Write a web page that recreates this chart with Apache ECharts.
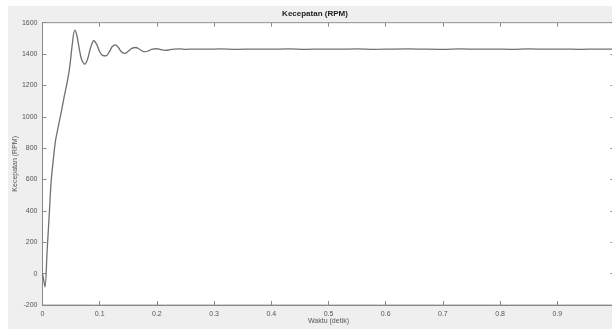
<!DOCTYPE html>
<html>
<head>
<meta charset="utf-8">
<script src="https://cdn.jsdelivr.net/npm/echarts@6/dist/echarts.min.js"></script>
<style>
  html, body { margin: 0; padding: 0; background: #fff; }
  #chart { width: 612px; height: 329px; }
</style>
</head>
<body>
<div id="chart"></div>
<script>
// Motor speed response: time in seconds, speed in RPM
const timeSec = [
  0, 0.002, 0.0044, 0.008, 0.012, 0.0152, 0.019, 0.0227, 0.028, 0.0332, 0.038, 0.0437,
  0.048, 0.052, 0.0565, 0.060, 0.064, 0.068, 0.074, 0.079, 0.084, 0.0897, 0.095,
  0.100, 0.105, 0.111, 0.117, 0.122, 0.1276, 0.133, 0.138, 0.144, 0.150, 0.156,
  0.163, 0.169, 0.175, 0.180, 0.186, 0.192, 0.199, 0.207, 0.215, 0.222, 0.23,
  0.24, 0.25, 0.27, 0.29, 0.31, 0.34, 0.37, 0.40, 0.43, 0.46, 0.49, 0.52, 0.55,
  0.58, 0.61, 0.64, 0.67, 0.70, 0.73, 0.76, 0.79, 0.82, 0.85, 0.88, 0.91, 0.94,
  0.97, 1.0
];
const speedRpm = [
  0, -40, -85, 140, 390, 592, 730, 847, 945, 1038, 1130, 1230,
  1330, 1460, 1553, 1520, 1440, 1370, 1336, 1370, 1440, 1485, 1460,
  1415, 1392, 1389, 1415, 1448, 1459, 1440, 1415, 1404, 1418, 1436,
  1442, 1432, 1418, 1415, 1422, 1431, 1434, 1428, 1424, 1427, 1432,
  1433, 1430, 1432, 1431, 1433, 1430, 1432, 1431, 1433, 1430, 1432, 1431, 1433,
  1430, 1432, 1433, 1431, 1430, 1433, 1431, 1432, 1430, 1433, 1431, 1432, 1430,
  1432, 1431
];
const xTicks = [0, 0.1, 0.2, 0.3, 0.4, 0.5, 0.6, 0.7, 0.8, 0.9];
const yTicks = [-200, 0, 200, 400, 600, 800, 1000, 1200, 1400, 1600];

const points = timeSec.map((t, i) => [t, speedRpm[i]]);

const chart = echarts.init(document.getElementById('chart'), null, { renderer: 'canvas' });
const font = 'Liberation Sans, Arial, sans-serif';
const tickColor = '#8a8a8a';
const labelColor = '#555';

chart.setOption({
  animation: false,
  backgroundColor: '#efefef',
  title: {
    text: 'Kecepatan (RPM)',
    left: 310, top: 5, textAlign: 'center',
    textStyle: { fontFamily: font, fontSize: 8, fontWeight: 'bold', color: '#222' }
  },
  graphic: [
    { type: 'rect', shape: { x: 0, y: 0, width: 612, height: 6 }, style: { fill: '#fff' }, z: 0 },
    { type: 'rect', shape: { x: 0, y: 0, width: 8, height: 329 }, style: { fill: '#fff' }, z: 0 }
  ],
  grid: {
    left: 42.5, top: 22.7, width: 572, height: 282.3,
    outerBoundsMode: 'none', containLabel: false,
    show: true, backgroundColor: '#fff', borderColor: '#a0a0a0', borderWidth: 1
  },
  xAxis: [{
    type: 'value', min: 0, max: 1, interval: 0.1,
    name: 'Waktu (detik)', nameLocation: 'middle', nameGap: 13, nameMoveOverlap: false,
    nameTextStyle: { fontFamily: font, fontSize: 7, color: labelColor },
    axisLine: { onZero: false, lineStyle: { color: '#888', width: 1 } },
    axisTick: { inside: true, length: 4, lineStyle: { color: tickColor } },
    axisLabel: {
      fontFamily: font, fontSize: 7, color: labelColor, margin: 6,
      showMaxLabel: false,
      formatter: v => {
        const hit = xTicks.find(t => Math.abs(t - v) < 1e-9);
        return hit === undefined ? '' : String(hit);
      }
    },
    splitLine: { show: false }
  }, {
    type: 'value', min: 0, max: 1, interval: 0.1, position: 'top',
    axisLine: { onZero: false, lineStyle: { color: '#a0a0a0' } },
    axisTick: { inside: true, length: 4, lineStyle: { color: tickColor } },
    axisLabel: { show: false }, splitLine: { show: false }
  }],
  yAxis: [{
    type: 'value', min: -200, max: 1600, interval: 200,
    name: 'Kecepatan (RPM)', nameLocation: 'middle', nameGap: 24, nameRotate: 90,
    nameMoveOverlap: false,
    nameTextStyle: { fontFamily: font, fontSize: 7, color: labelColor },
    axisLine: { show: true, onZero: false, lineStyle: { color: '#888', width: 1 } },
    axisTick: { show: true, inside: true, length: 4, lineStyle: { color: tickColor } },
    axisLabel: {
      fontFamily: font, fontSize: 7, color: labelColor, margin: 5,
      formatter: v => yTicks.includes(v) ? String(v) : ''
    },
    splitLine: { show: false }
  }, {
    type: 'value', min: -200, max: 1600, interval: 200, position: 'right',
    axisLine: { show: true, onZero: false, lineStyle: { color: '#a0a0a0' } },
    axisTick: { show: true, inside: true, length: 4, lineStyle: { color: tickColor } },
    axisLabel: { show: false }, splitLine: { show: false }
  }],
  series: [{
    type: 'line',
    data: points,
    showSymbol: false,
    smooth: 0.35,
    lineStyle: { color: '#707070', width: 1.3 },
    clip: true
  }]
});
</script>
</body>
</html>
